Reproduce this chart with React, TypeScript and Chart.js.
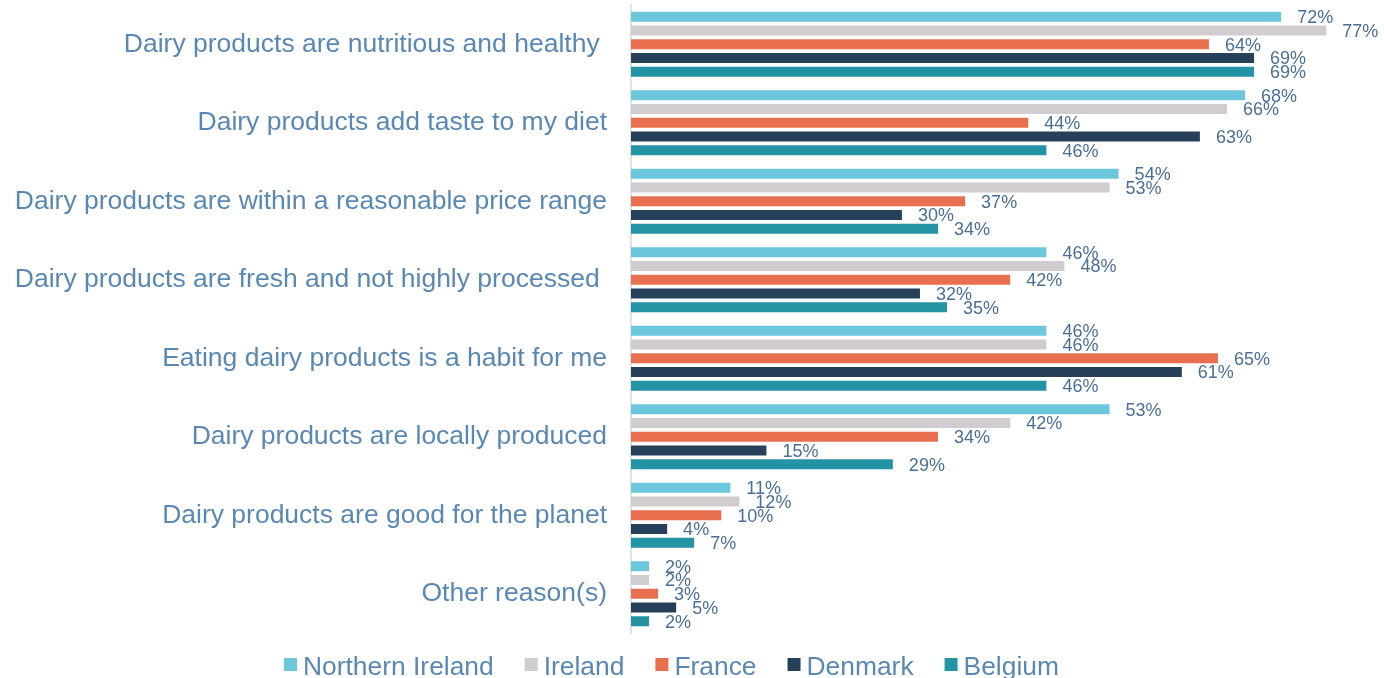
import React, { useEffect, useRef } from "react";
import { Chart, registerables } from "chart.js";

Chart.register(...registerables);

const categories = [
  "Dairy products are nutritious and healthy ",
  "Dairy products add taste to my diet",
  "Dairy products are within a reasonable price range",
  "Dairy products are fresh and not highly processed ",
  "Eating dairy products is a habit for me",
  "Dairy products are locally produced",
  "Dairy products are good for the planet",
  "Other reason(s)",
];

const seriesNames = ["Northern Ireland", "Ireland", "France", "Denmark", "Belgium"];
const northernIreland = [72, 68, 54, 46, 46, 53, 11, 2];
const ireland = [77, 66, 53, 48, 46, 42, 12, 2];
const france = [64, 44, 37, 42, 65, 34, 10, 3];
const denmark = [69, 63, 30, 32, 61, 15, 4, 5];
const belgium = [69, 46, 34, 35, 46, 29, 7, 2];
const seriesColors = ["#6CC6DC", "#D1CCCF", "#E8704F", "#26405A", "#2493A3"];

const FONT = "'Liberation Sans', Arial, sans-serif";
const CAT_COLOR = "#5A88B5";
const VAL_COLOR = "#4A6F96";

const valueLabels = {
  id: "valueLabels",
  afterDatasetsDraw(chart: any) {
    const ctx = chart.ctx;
    ctx.save();
    ctx.font = `18px ${FONT}`;
    ctx.fillStyle = VAL_COLOR;
    ctx.textAlign = "left";
    ctx.textBaseline = "middle";
    chart.data.datasets.forEach((ds: any, i: number) => {
      const meta = chart.getDatasetMeta(i);
      meta.data.forEach((el: any, j: number) => {
        ctx.fillText(`${ds.data[j]}%`, el.x + 16, el.y + 1.5);
      });
    });
    ctx.restore();
  },
};

const customLegend = {
  id: "customLegend",
  afterDraw(chart: any) {
    const ctx = chart.ctx;
    ctx.save();
    ctx.font = `26.4px ${FONT}`;
    ctx.textBaseline = "alphabetic";
    ctx.textAlign = "left";
    let x = 284;
    const boxTop = 658;
    const baseline = 675;
    chart.data.datasets.forEach((ds: any) => {
      ctx.fillStyle = ds.backgroundColor;
      ctx.fillRect(x, boxTop, 13, 13);
      ctx.fillStyle = CAT_COLOR;
      const tx = x + 19;
      ctx.fillText(ds.label, tx, baseline);
      x = tx + ctx.measureText(ds.label).width + 31;
    });
    ctx.restore();
  },
};

export default function App() {
  const ref = useRef<HTMLCanvasElement | null>(null);

  useEffect(() => {
    if (!ref.current) return;
    const dataArrays = [northernIreland, ireland, france, denmark, belgium];
    const chart = new Chart(ref.current, {
      type: "bar",
      data: {
        labels: categories,
        datasets: seriesNames.map((name, i) => ({
          label: name,
          data: dataArrays[i],
          backgroundColor: seriesColors[i],
          borderWidth: 0,
          categoryPercentage: 0.876,
          barPercentage: 0.73,
        })),
      },
      options: {
        indexAxis: "y",
        animation: false,
        responsive: true,
        maintainAspectRatio: false,
        layout: { padding: { top: 5, bottom: 45, right: 30.6, left: 0 } },
        plugins: {
          legend: { display: false },
          tooltip: { enabled: false },
        },
        scales: {
          x: {
            display: false,
            min: 0,
            max: 80,
          },
          y: {
            afterFit(scale: any) {
              scale.width = 631;
              scale.paddingTop = 0;
              scale.paddingBottom = 0;
            },
            grid: { display: false, drawTicks: false },
            border: { display: true, color: "#DCE3EA", width: 2 },
            ticks: {
              autoSkip: false,
              padding: 24,
              color: CAT_COLOR,
              font: { family: FONT, size: 26.5 },
            },
          },
        },
      },
      plugins: [valueLabels, customLegend],
    } as any);
    return () => chart.destroy();
  }, []);

  return (
    <div style={{ position: "absolute", left: 0, top: 0, width: 1384, height: 678, background: "#fff" }}>
      <canvas ref={ref} />
    </div>
  );
}
